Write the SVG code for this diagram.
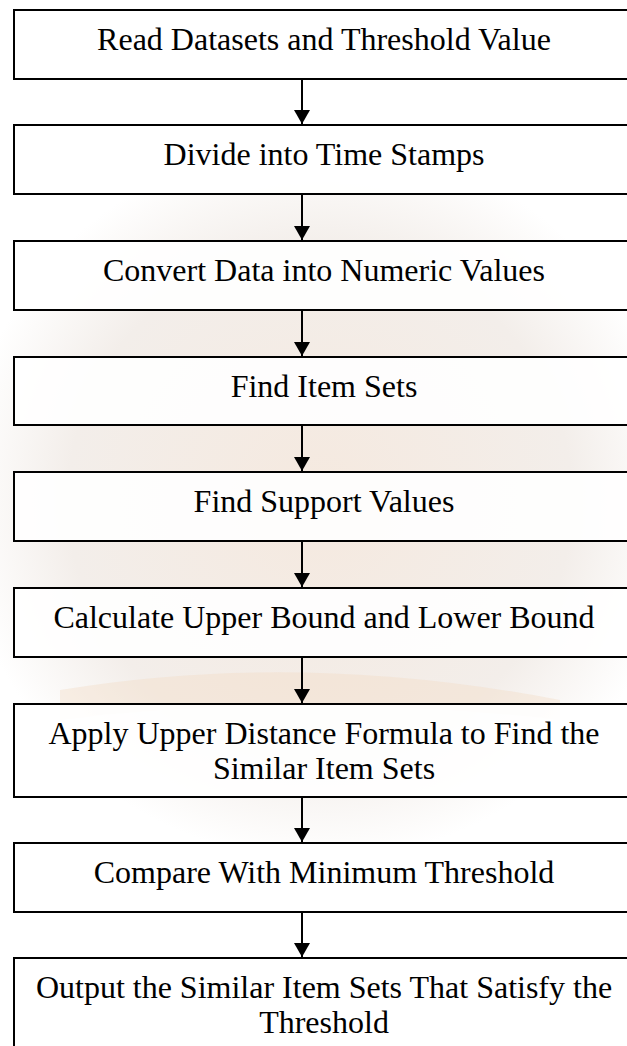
<svg xmlns="http://www.w3.org/2000/svg" width="627" height="1046" viewBox="0 0 627 1046">
<defs>
<marker id="ah" markerWidth="14" markerHeight="16" refX="14" refY="8" orient="auto" markerUnits="userSpaceOnUse" viewBox="0 0 14 16">
<path d="M0,0 L14,8 L0,16 Z" fill="#000"/>
</marker>
<radialGradient id="wm" cx="0.5" cy="0.5" r="0.5">
<stop offset="0" stop-color="#f5e9df"/>
<stop offset="0.7" stop-color="#f3eeea"/>
<stop offset="1" stop-color="#ffffff"/>
</radialGradient>
</defs>
<style>
.box{fill:#ffffff;fill-opacity:0.9;stroke:#000;stroke-width:2}
.lbl{font-family:"Liberation Serif","Times New Roman",serif;font-size:32px;fill:#000;text-anchor:middle}
.conn{stroke:#000;stroke-width:2;fill:none;marker-end:url(#ah)}
</style>
<rect x="0" y="0" width="627" height="1046" fill="#ffffff"/>
<g id="watermark">
<circle cx="320" cy="500" r="360" fill="url(#wm)"/>
<path d="M60,690 Q300,650 560,700 L560,720 Q300,690 60,720 Z" fill="#f2dcc6" opacity="0.4"/>
</g>
<g id="connectors">
<line class="conn" x1="302" y1="79" x2="302" y2="124"/>
<line class="conn" x1="302" y1="194" x2="302" y2="240"/>
<line class="conn" x1="302" y1="310" x2="302" y2="356"/>
<line class="conn" x1="302" y1="425" x2="302" y2="471"/>
<line class="conn" x1="302" y1="541" x2="302" y2="587"/>
<line class="conn" x1="302" y1="657" x2="302" y2="703"/>
<line class="conn" x1="302" y1="797" x2="302" y2="842"/>
<line class="conn" x1="302" y1="912" x2="302" y2="957"/>
</g>
<g id="n1"><rect class="box" x="14" y="10" width="640" height="69"/><text class="lbl" x="324" y="50">Read Datasets and Threshold Value</text></g>
<g id="n2"><rect class="box" x="14" y="125" width="640" height="69"/><text class="lbl" x="324" y="165">Divide into Time Stamps</text></g>
<g id="n3"><rect class="box" x="14" y="241" width="640" height="69"/><text class="lbl" x="324" y="281">Convert Data into Numeric Values</text></g>
<g id="n4"><rect class="box" x="14" y="357" width="640" height="68"/><text class="lbl" x="324" y="397">Find Item Sets</text></g>
<g id="n5"><rect class="box" x="14" y="472" width="640" height="69"/><text class="lbl" x="324" y="512">Find Support Values</text></g>
<g id="n6"><rect class="box" x="14" y="588" width="640" height="69"/><text class="lbl" x="324" y="628">Calculate Upper Bound and Lower Bound</text></g>
<g id="n7"><rect class="box" x="14" y="704" width="640" height="93"/><text class="lbl" x="324" y="744">Apply Upper Distance Formula to Find the</text><text class="lbl" x="324" y="779">Similar Item Sets</text></g>
<g id="n8"><rect class="box" x="14" y="843" width="640" height="69"/><text class="lbl" x="324" y="883">Compare With Minimum Threshold</text></g>
<g id="n9"><rect class="box" x="14" y="958" width="640" height="100"/><text class="lbl" x="324" y="998">Output the Similar Item Sets That Satisfy the</text><text class="lbl" x="324" y="1033">Threshold</text></g>
</svg>
